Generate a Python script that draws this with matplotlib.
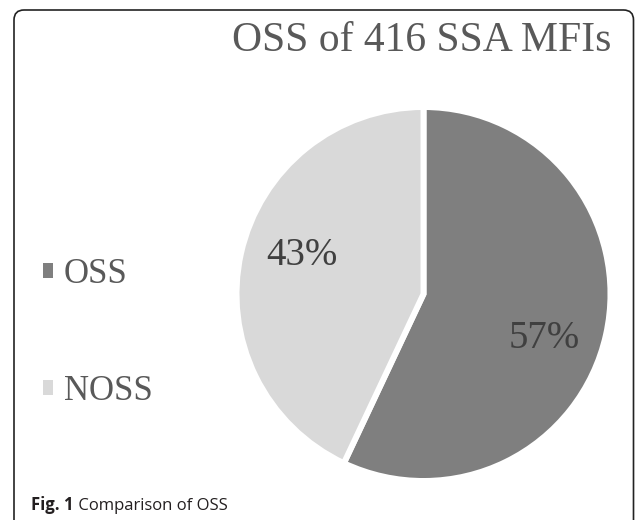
import numpy as np
import matplotlib
matplotlib.use("Agg")
import matplotlib.pyplot as plt
from matplotlib.patches import FancyBboxPatch, Patch

# chart data
categories = ["OSS", "NOSS"]
shares = [57, 43]
colors = ["#7f7f7f", "#d9d9d9"]
title = "OSS of 416 SSA MFIs"
caption_bold = "Fig. 1"
caption_text = " Comparison of OSS"

W, H = 635, 520
fig = plt.figure(figsize=(W / 100, H / 100), dpi=100)
ax = fig.add_axes([0, 0, 1, 1])

# pie in pixel coordinates (y measured upward)
cx, cy, r = 423.5, H - 294, 187
wedges, _, autotexts = ax.pie(
    shares, colors=colors, startangle=90, counterclock=False,
    center=(cx, cy), radius=r, autopct="%d%%",
    wedgeprops=dict(edgecolor="white", linewidth=4.3),
    textprops=dict(family="Liberation Serif", fontsize=28, color="#404040"),
)
ax.set_xlim(0, W)
ax.set_ylim(0, H)
ax.axis("off")

# move the percent labels like the original
label_pos = [(-20, 129), (162.3, 128)]
for t, (ang, dist) in zip(autotexts, label_pos):
    a = np.deg2rad(ang)
    t.set_position((cx + dist * np.cos(a), cy + dist * np.sin(a)))

ax.text(422, H - 41, title, family="Liberation Serif", fontsize=30,
        color="#595959", ha="center", va="center")

# legend with small square keys
handles = [Patch(facecolor=c, edgecolor="none") for c in colors]
ax.legend(handles, categories, loc="center left", bbox_to_anchor=(43, H - 333),
          bbox_transform=ax.transData, frameon=False, borderpad=0,
          borderaxespad=0, handlelength=0.3, handleheight=0.3,
          handletextpad=0.3, labelspacing=2.4,
          prop=dict(family="Liberation Serif", size=25), labelcolor="#595959")

# rounded frame round the chart
frame = FancyBboxPatch((14, -30), 619.5, H - 10 + 30,
                       boxstyle="round,pad=0,rounding_size=10",
                       fill=False, edgecolor="#222222", linewidth=1.2)
ax.add_patch(frame)

t1 = ax.text(31, H - 514, caption_bold, family="Open Sans", fontweight="bold",
             fontsize=12, color="#231f20", ha="left", va="bottom")
ax.annotate(caption_text, xy=(1, 0), xycoords=t1, family="Open Sans",
            fontsize=12, color="#231f20", ha="left", va="bottom")

fig.savefig("out.png", dpi=100)
